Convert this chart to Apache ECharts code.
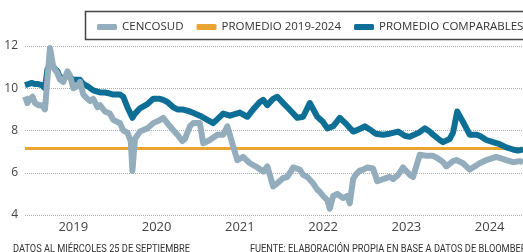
<!DOCTYPE html>
<html>
<head>
<meta charset="utf-8">
<script src="https://cdn.jsdelivr.net/npm/echarts@6/dist/echarts.min.js"></script>
<style>
  html, body { margin: 0; padding: 0; background: #fff; }
  #chart { width: 523px; height: 252px; }
</style>
</head>
<body>
<div id="chart"></div>
<script>
// years shown on the x axis
var yearLabels = [2019, 2020, 2021, 2022, 2023, 2024];

// CENCOSUD  [year, value]
var cencosud = [
  [2018.42, 9.6], [2018.45, 9.3], [2018.48, 9.5], [2018.51, 9.6], [2018.54, 9.3],
  [2018.58, 9.2], [2018.62, 9.2], [2018.66, 9.0], [2018.69, 10.5], [2018.72, 11.9],
  [2018.76, 11.0], [2018.81, 10.7], [2018.84, 10.4], [2018.88, 10.3], [2018.93, 10.8],
  [2018.96, 10.6], [2019.00, 10.0], [2019.05, 10.1], [2019.08, 10.3], [2019.12, 9.7],
  [2019.17, 9.5], [2019.20, 9.4], [2019.24, 9.5], [2019.29, 9.1], [2019.32, 9.2],
  [2019.38, 8.9], [2019.44, 8.8], [2019.48, 8.5], [2019.53, 8.4], [2019.56, 8.35],
  [2019.60, 8.0], [2019.65, 7.9], [2019.69, 7.5], [2019.71, 6.1], [2019.74, 7.6],
  [2019.80, 7.95], [2019.89, 8.1], [2019.96, 8.35], [2020.04, 8.5], [2020.08, 8.6],
  [2020.16, 8.2], [2020.25, 7.8], [2020.31, 7.5], [2020.34, 7.6], [2020.40, 8.2],
  [2020.44, 8.35], [2020.52, 8.35], [2020.56, 7.4], [2020.64, 7.55], [2020.73, 7.8],
  [2020.80, 7.8], [2020.85, 8.2], [2020.92, 7.25], [2020.97, 6.6], [2021.04, 6.75],
  [2021.12, 6.45], [2021.21, 6.25], [2021.28, 6.05], [2021.33, 6.3], [2021.36, 5.9],
  [2021.40, 5.35], [2021.45, 5.5], [2021.52, 5.75], [2021.57, 5.8], [2021.64, 6.25],
  [2021.72, 6.15], [2021.76, 5.9], [2021.81, 5.8], [2021.88, 5.5], [2021.93, 5.2],
  [2021.96, 5.1], [2022.00, 4.9], [2022.05, 4.7], [2022.08, 4.3], [2022.12, 4.9],
  [2022.17, 5.0], [2022.24, 4.8], [2022.29, 4.9], [2022.32, 4.55], [2022.36, 5.7],
  [2022.39, 5.9], [2022.44, 6.1], [2022.48, 6.15], [2022.53, 6.25], [2022.60, 6.2],
  [2022.65, 5.6], [2022.72, 5.7], [2022.80, 5.8], [2022.84, 5.7], [2022.90, 5.9],
  [2022.96, 6.25], [2023.04, 5.9], [2023.08, 5.8], [2023.16, 6.85], [2023.25, 6.8],
  [2023.32, 6.8], [2023.37, 6.7], [2023.44, 6.5], [2023.48, 6.3], [2023.56, 6.55],
  [2023.60, 6.6], [2023.68, 6.45], [2023.76, 6.15], [2023.88, 6.45], [2023.96, 6.6],
  [2024.08, 6.75], [2024.20, 6.6], [2024.28, 6.5], [2024.36, 6.55], [2024.40, 6.5]
];

// PROMEDIO COMPARABLES  [year, value]
var comparables = [
  [2018.42, 10.15], [2018.46, 10.2], [2018.50, 10.25], [2018.54, 10.2], [2018.58, 10.2],
  [2018.62, 10.15], [2018.66, 10.0], [2018.69, 10.9], [2018.72, 11.1], [2018.76, 11.0],
  [2018.81, 10.8], [2018.84, 10.5], [2018.88, 10.5], [2018.93, 10.6], [2019.00, 10.4],
  [2019.08, 10.4], [2019.12, 10.2], [2019.17, 10.1], [2019.24, 9.9], [2019.32, 9.8],
  [2019.38, 9.8], [2019.44, 9.75], [2019.48, 9.7], [2019.56, 9.7], [2019.60, 9.6],
  [2019.65, 9.1], [2019.71, 8.6], [2019.74, 8.8], [2019.80, 9.05], [2019.89, 9.25],
  [2019.96, 9.5], [2020.04, 9.5], [2020.08, 9.45], [2020.13, 9.35], [2020.20, 9.1],
  [2020.25, 9.0], [2020.31, 9.0], [2020.40, 8.9], [2020.52, 8.7], [2020.61, 8.5],
  [2020.68, 8.35], [2020.80, 8.8], [2020.88, 8.7], [2021.00, 8.85], [2021.09, 8.65],
  [2021.16, 9.0], [2021.24, 9.35], [2021.28, 9.45], [2021.33, 9.2], [2021.40, 9.5],
  [2021.45, 9.6], [2021.52, 9.3], [2021.57, 9.1], [2021.69, 8.6], [2021.76, 8.65],
  [2021.84, 9.3], [2021.93, 8.65], [2022.00, 8.4], [2022.05, 8.1], [2022.12, 8.2],
  [2022.20, 8.6], [2022.28, 8.3], [2022.36, 7.95], [2022.43, 8.05], [2022.50, 8.2],
  [2022.56, 8.05], [2022.63, 7.85], [2022.72, 7.8], [2022.80, 7.85], [2022.90, 7.95],
  [2022.98, 7.75], [2023.04, 7.7], [2023.15, 7.9], [2023.22, 8.1], [2023.28, 7.95],
  [2023.32, 7.8], [2023.40, 7.55], [2023.44, 7.45], [2023.52, 7.6], [2023.56, 7.9],
  [2023.61, 8.9], [2023.68, 8.4], [2023.76, 7.8], [2023.84, 7.8], [2023.88, 7.75],
  [2023.96, 7.55], [2024.04, 7.45], [2024.12, 7.35], [2024.20, 7.2], [2024.28, 7.1],
  [2024.34, 7.05], [2024.40, 7.1]
];

// PROMEDIO 2019-2024 (flat average)
var promedio = [[2018.42, 7.15], [2024.40, 7.15]];

var font = '"Open Sans", "Noto Sans", sans-serif';
var noteFont = 'Roboto, "Open Sans", sans-serif';
var chart = echarts.init(document.getElementById('chart'));

var option = {
  animation: false,
  backgroundColor: '#fff',
  textStyle: { fontFamily: font },
  grid: { left: 25, right: 0, top: 46, bottom: 37 },
  legend: {
    left: 92, top: 16, width: 440,
    itemWidth: 20, itemHeight: 6, itemGap: 13, icon: 'roundRect',
    textStyle: { fontFamily: font, fontSize: 11.5, color: '#333' },
    data: ['CENCOSUD', 'PROMEDIO 2019-2024', 'PROMEDIO COMPARABLES']
  },
  graphic: [
    { type: 'rect', left: 83, top: 9, shape: { width: 460, height: 28 },
      style: { fill: 'none', stroke: '#444', lineWidth: 1.5 }, z: -1 },
    // footnotes, narrowed to match the condensed face of the original
    { type: 'text', x: 13, y: 244, scaleX: 0.88,
      style: { text: 'DATOS AL MIÉRCOLES 25 DE SEPTIEMBRE', fill: '#333', font: '10.5px ' + noteFont } },
    { type: 'text', x: 250, y: 244, scaleX: 0.88,
      style: { text: 'FUENTE: ELABORACIÓN PROPIA EN BASE A DATOS DE BLOOMBERG', fill: '#333', font: '10.5px ' + noteFont } }
  ],
  xAxis: {
    type: 'value', min: 2018.42, max: 2024.40,
    axisLine: { show: false }, axisTick: { show: false }, splitLine: { show: false },
    axisLabel: {
      customValues: yearLabels, margin: 6, fontSize: 13, color: '#444',
      formatter: function (v) { return String(v); }
    }
  },
  yAxis: {
    type: 'value', min: 4, max: 12, interval: 2,
    axisLine: { show: false }, axisTick: { show: false },
    axisLabel: { margin: 7, fontSize: 12, color: '#444' },
    splitLine: { lineStyle: { type: 'dotted', color: '#aaa', width: 1 } }
  },
  series: [
    { name: 'PROMEDIO 2019-2024', type: 'line', data: promedio, symbol: 'none',
      z: 2, color: '#e9a431', lineStyle: { width: 3, color: '#e9a431' } },
    { name: 'PROMEDIO COMPARABLES', type: 'line', data: comparables, symbol: 'none',
      z: 3, color: '#0d6f96', lineStyle: { width: 6, color: '#0d6f96', join: 'round' } },
    { name: 'CENCOSUD', type: 'line', data: cencosud, symbol: 'none',
      z: 4, color: '#93adbd', lineStyle: { width: 6, color: '#93adbd', join: 'round' } }
  ]
};

chart.setOption(option);
</script>
</body>
</html>
